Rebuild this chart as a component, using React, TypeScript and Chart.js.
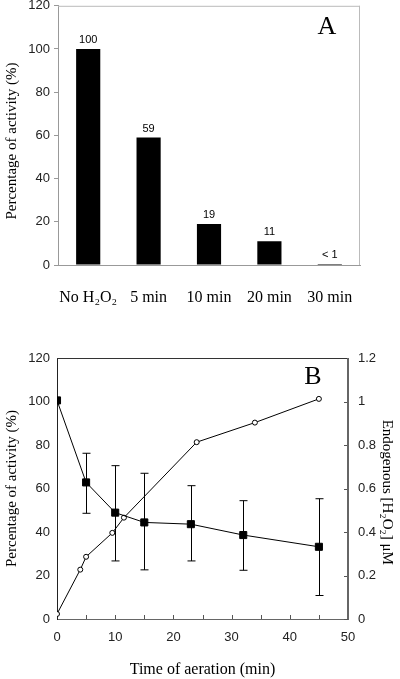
import React, { useEffect, useRef } from "react";
import { Chart, registerables } from "chart.js";
Chart.register(...registerables);

// Panel A
const barCategories = ["No H₂O₂", "5 min", "10 min", "20 min", "30 min"];
const barValues = [100, 59, 19, 11, 0.5];
const barValueLabels = ["100", "59", "19", "11", "< 1"];

// Panel B
const activityTime = [0, 5, 10, 15, 23, 32, 45];
const activityPct = [100.5, 62.8, 48.9, 44.4, 43.6, 38.6, 33.2];
const activityErrLow: (number | null)[] = [null, 48.6, 26.7, 22.6, 26.7, 22.4, 10.8];
const activityErrHigh: (number | null)[] = [null, 76.2, 70.5, 67.0, 61.3, 54.4, 55.3];

const h2o2Time = [0, 4, 5, 9.5, 11.5, 24, 34, 45];
const h2o2Conc = [0.023, 0.227, 0.286, 0.396, 0.466, 0.813, 0.903, 1.012];

const SANS = '"Liberation Sans", Arial, sans-serif';
const SERIF = '"Liberation Serif", "Times New Roman", serif';

function boxPlugin(id: string, topColor: string, rightColor: string) {
  return {
    id,
    afterDraw(chart: any) {
      const { ctx, chartArea: a } = chart;
      ctx.save();
      ctx.lineWidth = 1;
      ctx.strokeStyle = topColor;
      ctx.beginPath();
      ctx.moveTo(a.left, a.top + 0.5);
      ctx.lineTo(a.right, a.top + 0.5);
      ctx.stroke();
      ctx.strokeStyle = rightColor;
      ctx.beginPath();
      ctx.moveTo(a.right - 0.5, a.top);
      ctx.lineTo(a.right - 0.5, a.bottom);
      ctx.stroke();
      ctx.restore();
    },
  };
}

function panelLetter(id: string, letter: string, dx: number, dy: number) {
  return {
    id,
    afterDraw(chart: any) {
      const { ctx, chartArea: a } = chart;
      ctx.save();
      ctx.fillStyle = "#000";
      ctx.font = `26px ${SERIF}`;
      ctx.textAlign = "center";
      ctx.textBaseline = "middle";
      ctx.fillText(letter, a.right - dx, a.top + dy);
      ctx.restore();
    },
  };
}

const barLabelPlugin = {
  id: "barLabels",
  afterDatasetsDraw(chart: any) {
    const { ctx } = chart;
    const meta = chart.getDatasetMeta(0);
    ctx.save();
    ctx.fillStyle = "#000";
    ctx.font = `11px ${SANS}`;
    ctx.textAlign = "center";
    ctx.textBaseline = "middle";
    meta.data.forEach((el: any, i: number) => {
      ctx.fillText(barValueLabels[i], el.x, el.y - 9);
    });
    ctx.restore();
  },
};

const errorBarPlugin = {
  id: "errorBars",
  beforeDatasetsDraw(chart: any) {
    const { ctx, scales } = chart;
    ctx.save();
    ctx.strokeStyle = "#000";
    ctx.lineWidth = 1;
    activityTime.forEach((t, i) => {
      const lo = activityErrLow[i];
      const hi = activityErrHigh[i];
      if (lo == null || hi == null) return;
      const x = Math.round(scales.x.getPixelForValue(t)) + 0.5;
      const y1 = scales.y.getPixelForValue(lo);
      const y2 = scales.y.getPixelForValue(hi);
      ctx.beginPath();
      ctx.moveTo(x, y1);
      ctx.lineTo(x, y2);
      ctx.moveTo(x - 4, y1);
      ctx.lineTo(x + 4, y1);
      ctx.moveTo(x - 4, y2);
      ctx.lineTo(x + 4, y2);
      ctx.stroke();
    });
    ctx.restore();
  },
};

const innerTicksPlugin = {
  id: "innerTicks",
  afterDraw(chart: any) {
    const { ctx, scales, chartArea: a } = chart;
    ctx.save();
    ctx.strokeStyle = "#555";
    ctx.lineWidth = 1;
    ctx.beginPath();
    for (let v = 5; v < 50; v += 5) {
      const x = Math.round(scales.x.getPixelForValue(v)) + 0.5;
      ctx.moveTo(x, a.bottom);
      ctx.lineTo(x, a.bottom - 4);
    }
    scales.y2.ticks.forEach((t: any) => {
      const y = Math.round(scales.y2.getPixelForValue(t.value)) + 0.5;
      ctx.moveTo(a.right, y);
      ctx.lineTo(a.right - 4, y);
    });
    ctx.stroke();
    ctx.restore();
  },
};

export default function App() {
  const refA = useRef<HTMLCanvasElement>(null);
  const refB = useRef<HTMLCanvasElement>(null);

  useEffect(() => {
    const chartA = new Chart(refA.current as HTMLCanvasElement, {
      type: "bar",
      data: {
        labels: barCategories,
        datasets: [
          {
            data: barValues,
            backgroundColor: "#000",
            borderWidth: 0,
            categoryPercentage: 1,
            barPercentage: 0.4,
          },
        ],
      },
      options: {
        responsive: false,
        animation: false,
        devicePixelRatio: 1,
        layout: { padding: { top: 10, right: 40, left: 0, bottom: 0 } },
        plugins: { legend: { display: false }, tooltip: { enabled: false } },
        scales: {
          x: {
            type: "category",
            offset: true,
            grid: { display: false, drawTicks: false },
            border: { display: true, color: "#999" },
            ticks: {
              color: "#000",
              font: { family: SERIF, size: 16 },
              padding: 23,
              maxRotation: 0,
              autoSkip: false,
            },
            afterFit: (s: any) => {
              s.height = 65;
            },
          },
          y: {
            min: 0,
            max: 120,
            ticks: {
              stepSize: 20,
              color: "#222",
              font: { family: SANS, size: 13 },
              padding: 4,
            },
            grid: { drawOnChartArea: false, drawTicks: true, tickLength: 4, color: "#999" },
            border: { display: true, color: "#999" },
            title: {
              display: true,
              text: "Percentage of activity (%)   ",
              color: "#000",
              font: { family: SERIF, size: 15 },
              padding: 3,
            },
            afterFit: (s: any) => {
              s.width = 58;
            },
          },
        },
      },
      plugins: [barLabelPlugin, boxPlugin("boxA", "#bbb", "#bbb"), panelLetter("letterA", "A", 33, 21)],
    } as any);

    const chartB = new Chart(refB.current as HTMLCanvasElement, {
      type: "scatter",
      data: {
        datasets: [
          {
            data: activityTime.map((t, i) => ({ x: t, y: activityPct[i] })),
            yAxisID: "y",
            showLine: true,
            borderColor: "#000",
            borderWidth: 1,
            backgroundColor: "#000",
            pointStyle: "rect",
            pointRadius: 5,
            pointBorderWidth: 1,
            pointBorderColor: "#000",
            pointBackgroundColor: "#000",
          },
          {
            data: h2o2Time.map((t, i) => ({ x: t, y: h2o2Conc[i] })),
            yAxisID: "y2",
            showLine: true,
            borderColor: "#000",
            borderWidth: 1,
            backgroundColor: "#fff",
            pointStyle: "circle",
            pointRadius: 2.5,
            pointBorderWidth: 1,
            pointBorderColor: "#000",
            pointBackgroundColor: "#fff",
          },
        ],
      },
      options: {
        responsive: false,
        animation: false,
        devicePixelRatio: 1,
        layout: { padding: { top: 28, right: 0, left: 0, bottom: 0 } },
        plugins: { legend: { display: false }, tooltip: { enabled: false } },
        scales: {
          x: {
            type: "linear",
            min: 0,
            max: 50,
            grid: { display: false, drawTicks: false },
            border: { display: true, color: "#666" },
            ticks: {
              stepSize: 10,
              color: "#222",
              font: { family: SANS, size: 13 },
              padding: 11,
            },
            title: {
              display: true,
              text: "Time of aeration (min)",
              color: "#000",
              font: { family: SERIF, size: 16 },
              padding: { top: 0, bottom: 0 },
            },
            afterFit: (s: any) => {
              s.height = 60;
            },
          },
          y: {
            position: "left",
            min: 0,
            max: 120,
            grid: { display: false, drawTicks: false },
            border: { display: true, color: "#222" },
            ticks: {
              stepSize: 20,
              color: "#222",
              font: { family: SANS, size: 13 },
              padding: 7,
            },
            title: {
              display: true,
              text: "Percentage of activity (%)",
              color: "#000",
              font: { family: SERIF, size: 15 },
              padding: 3,
            },
            afterFit: (s: any) => {
              s.width = 57;
            },
          },
          y2: {
            position: "right",
            min: 0,
            max: 1.2,
            grid: { display: false, drawTicks: false },
            border: { display: true, color: "#666" },
            ticks: {
              stepSize: 0.2,
              color: "#222",
              font: { family: SANS, size: 13 },
              padding: 10,
              callback: (v: any) => String(Number(Number(v).toFixed(1))),
            },
            title: {
              display: true,
              text: "  Endogenous [H₂O₂] μM",
              color: "#000",
              font: { family: SERIF, size: 15 },
              padding: 4,
            },
            afterFit: (s: any) => {
              s.width = 52;
            },
          },
        },
      },
      plugins: [errorBarPlugin, innerTicksPlugin, boxPlugin("boxB", "#333", "#666"), panelLetter("letterB", "B", 35, 19)],
    } as any);

    return () => {
      chartA.destroy();
      chartB.destroy();
    };
  }, []);

  return (
    <div
      style={{
        position: "absolute",
        left: 0,
        top: 0,
        width: 400,
        height: 679,
        overflow: "hidden",
        background: "#fff",
      }}
    >
      <canvas
        ref={refA}
        width={400}
        height={336}
        style={{ position: "absolute", left: 0, top: -6, width: 400, height: 336 }}
      />
      <canvas
        ref={refB}
        width={400}
        height={349}
        style={{ position: "absolute", left: 0, top: 330, width: 400, height: 349 }}
      />
    </div>
  );
}
